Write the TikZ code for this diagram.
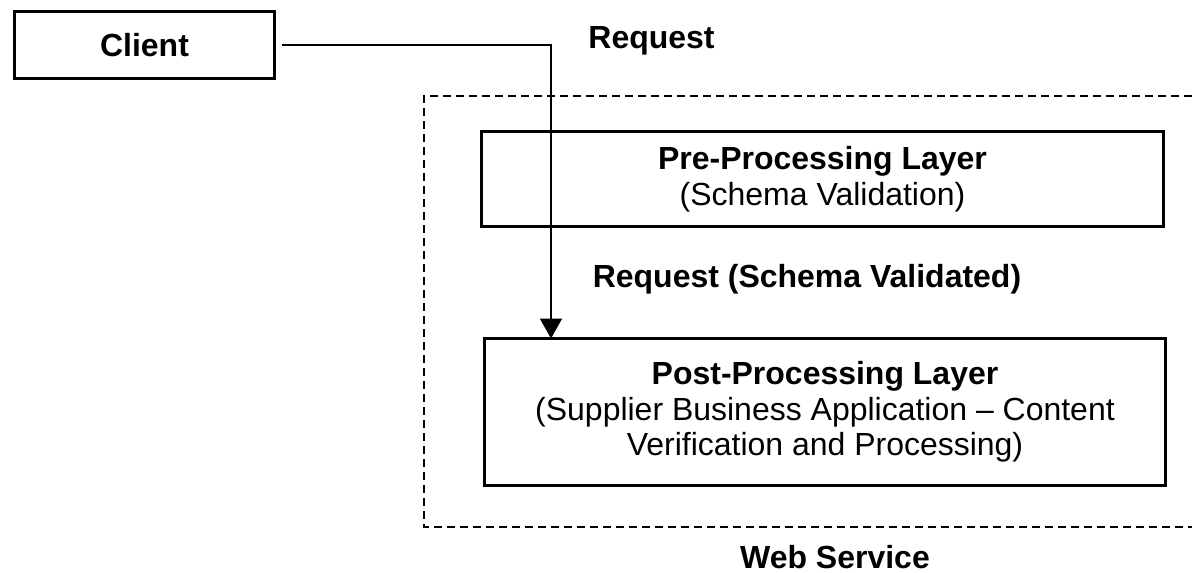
\documentclass[tikz,border=0pt]{standalone}
\usepackage{fontspec}
\setmainfont{Liberation Sans}
\usetikzlibrary{arrows.meta}

\begin{document}
\begin{tikzpicture}[every node/.style={inner sep=0,outer sep=0,font=\fontsize{18.2}{20.3}\selectfont},
	box/.style={draw,line width=1.7pt,align=center},
	lbl/.style={anchor=base,font=\fontsize{18.2}{20.3}\selectfont\bfseries}]
	\useasboundingbox (0,0) rectangle (23.92,-11.46);
	% web service frame, open on the right
	\draw[line width=0.85pt,dash pattern=on 0.16cm off 0.1cm] (23.84,-1.92) -- (8.48,-1.92) -- (8.48,-10.54) -- (23.84,-10.54);
	\node[lbl] (ws) at (16.7,-11.36) {Web Service};
	\node[box,font=\fontsize{18.2}{20.3}\selectfont\bfseries,minimum width=5.2cm,minimum height=1.34cm] (client) at (2.89,-0.9) {Client};
	\node[box,minimum width=13.64cm,minimum height=1.9cm] (pre) at (16.45,-3.58) {\textbf{Pre-Processing Layer}\\(Schema Validation)};
	\node[box,minimum width=13.62cm,minimum height=2.94cm] (post) at (16.5,-8.24) {\textbf{Post-Processing Layer}\\(Supplier Business Application -- Content\\Verification and Processing)};
	\node[lbl] (req) at (13.03,-0.96) {Request};
	\node[lbl] (reqv) at (16.14,-5.74) {Request (Schema Validated)};
	\coordinate (bend) at (11.02,-0.9);
	\draw[line width=0.9pt,-{Triangle[width=0.44cm,length=0.4cm]},shorten <=0.14cm] (client.east) -- (bend) -- (bend |- post.north);
\end{tikzpicture}
\end{document}
